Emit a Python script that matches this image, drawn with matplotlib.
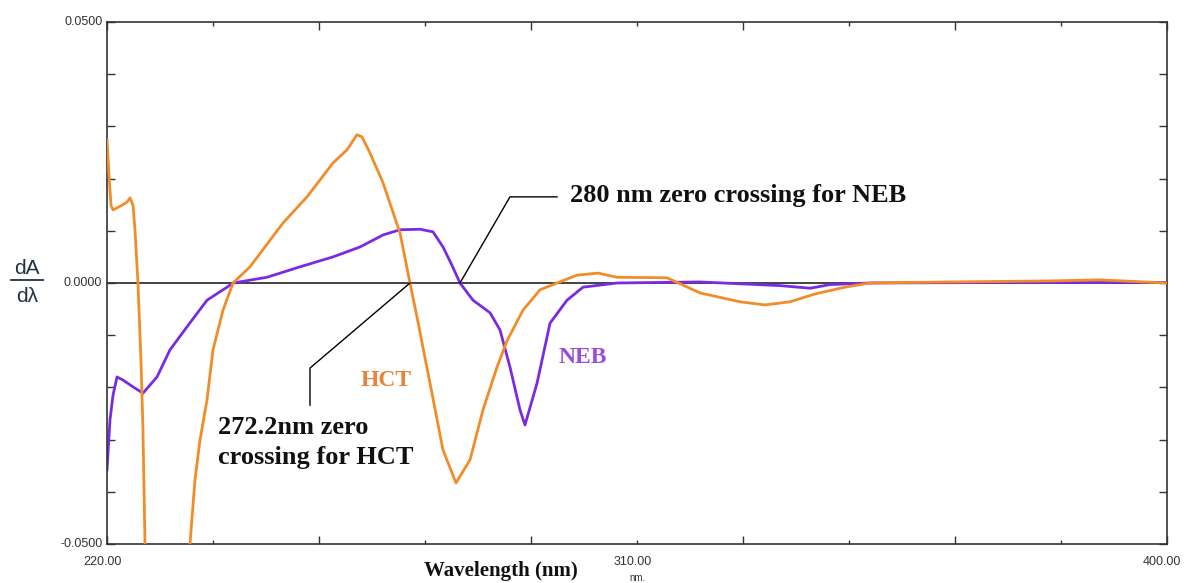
import matplotlib
matplotlib.use("Agg")
import matplotlib.pyplot as plt
from matplotlib.ticker import FixedLocator, NullFormatter

# ---- data (wavelength nm, dA/dlambda) ----
hct_nm = [220.00, 220.34, 220.68, 221.02, 221.70, 222.55, 223.40, 223.91, 224.42, 224.75,
          225.26, 225.77, 226.11, 226.45, 226.79, 230.0, 233.0, 233.42, 233.92, 234.09,
          234.94, 235.79, 236.98, 238.00, 239.70, 241.40, 244.28, 249.89, 253.96, 258.38,
          260.75, 262.45, 263.30, 264.66, 266.87, 269.75, 271.45, 272.64, 274.85, 277.06,
          279.26, 281.64, 283.85, 286.23, 287.92, 290.64, 293.53, 296.42, 299.81, 303.38,
          306.60, 315.09, 320.70, 327.49, 331.74, 335.98, 340.23, 345.32, 349.57, 363.1,
          380.1, 388.6, 400.0]
hct_val = [0.0274, 0.0207, 0.0149, 0.0140, 0.0144, 0.0149, 0.0155, 0.0163, 0.0149, 0.0102,
           0.0, -0.0148, -0.0282, -0.0500, -0.0750, -0.0900, -0.0800, -0.0600, -0.0520, -0.0500,
           -0.0377, -0.0301, -0.0224, -0.0128, -0.0052, 0.0, 0.0031, 0.0115, 0.0165, 0.0230,
           0.0255, 0.0284, 0.0280, 0.0249, 0.0192, 0.0096, 0.0, -0.0065, -0.0192, -0.0320,
           -0.0383, -0.0339, -0.0243, -0.0161, -0.0111, -0.0052, -0.0013, 0.0, 0.0015, 0.0019,
           0.0011, 0.0010, -0.0019, -0.0036, -0.0042, -0.0036, -0.0021, -0.0008, 0.0, 0.0002,
           0.0004, 0.0006, 0.0]

neb_nm = [220.00, 220.51, 221.02, 221.70, 222.72, 224.42, 226.11, 228.49, 230.70, 233.58,
          236.98, 240.38, 241.40, 247.17, 252.77, 258.38, 262.96, 266.87, 269.75, 273.15,
          275.36, 277.06, 278.58, 279.94, 282.15, 285.04, 286.74, 288.43, 290.13, 290.98,
          293.02, 295.23, 298.11, 300.83, 306.60, 320.7, 334.3, 339.4, 342.8, 349.6,
          371.6, 400.0]
neb_val = [-0.0358, -0.0262, -0.0215, -0.0180, -0.0186, -0.0199, -0.0211, -0.0180, -0.0128, -0.0084,
           -0.0033, -0.0008, 0.0, 0.0011, 0.0031, 0.0050, 0.0069, 0.0092, 0.0102, 0.0103,
           0.0098, 0.0069, 0.0034, 0.0, -0.0033, -0.0057, -0.0090, -0.0161, -0.0243, -0.0272,
           -0.0192, -0.0077, -0.0033, -0.0008, 0.0, 0.0002, -0.0005, -0.0010, -0.0003, 0.0,
           0.0001, 0.0001]

x_label_ticks = [220, 310, 400]
y_label_ticks = [-0.05, 0.0, 0.05]

HCT_COLOR = "#F28C28"
NEB_COLOR = "#7A2BE2"

fig = plt.figure(figsize=(11.89, 5.83), dpi=100)
ax = fig.add_axes([107/1189, 39/583, 1060/1189, 522/583])

ax.axhline(0, color="#222222", lw=1.2, zorder=1)
ax.plot(hct_nm, hct_val, color=HCT_COLOR, lw=2.0, zorder=3)
ax.plot(neb_nm, neb_val, color=NEB_COLOR, lw=2.0, zorder=2)

ax.set_xlim(220, 400)
ax.set_ylim(-0.05, 0.05)

for s in ax.spines.values():
    s.set_color("#333333")
    s.set_linewidth(1.2)

ax.xaxis.set_major_locator(FixedLocator([220, 256, 292, 328, 364, 400]))
ax.xaxis.set_minor_locator(FixedLocator([238, 274, 310, 346, 382]))
ax.yaxis.set_major_locator(FixedLocator([-0.05 + 0.01 * i for i in range(11)]))
ax.xaxis.set_major_formatter(NullFormatter())
ax.yaxis.set_major_formatter(NullFormatter())
ax.tick_params(axis="both", which="major", direction="in", length=6, width=1,
               top=True, right=True, color="#333333")
ax.tick_params(axis="both", which="minor", direction="in", length=3, width=1,
               top=True, right=True, color="#333333")

tick_font = dict(family="Liberation Sans", fontsize=9, color="#333333")
for v in x_label_ticks:
    ax.text(v - 0.8, -0.0523, f"{v:.2f}", ha="center", va="top", **tick_font)
ax.text(310, -0.0556, "nm.", ha="center", va="top", family="Liberation Sans",
        fontsize=7, color="#333333")
for v in y_label_ticks:
    ax.text(219.2, v, f"{v:.4f}", ha="right", va="center", **tick_font)

fig.text(501/1189, 1 - 571/583, "Wavelength (nm)", ha="center", va="center",
         family="Liberation Serif", fontweight="bold", fontsize=15, color="#111111")

# dA / dλ label
fig.text(27/1189, 1 - 268/583, "dA", ha="center", va="center", family="Liberation Sans",
         fontsize=15, color="#1E3346")
fig.text(27/1189, 1 - 296/583, "dλ", ha="center", va="center", family="Liberation Sans",
         fontsize=15, color="#1E3346")
fig.add_artist(plt.Line2D([11/1189, 43/1189], [1 - 280/583, 1 - 280/583],
                          color="#1E3346", lw=1.3))

# annotations
ax.plot([279.94, 288.43, 296.42], [0.0, 0.0165, 0.0165], color="black", lw=1.0, zorder=4)
ax.text(298.6, 0.0168, "280 nm zero crossing for NEB", ha="left", va="center",
        family="Liberation Serif", fontweight="bold", fontsize=19, color="#111111")

ax.plot([271.45, 254.47, 254.47], [0.0, -0.0163, -0.0234], color="black", lw=1.0, zorder=4)
ax.text(238.8, -0.0305, "272.2nm zero\ncrossing for HCT", ha="left", va="center",
        family="Liberation Serif", fontweight="bold", fontsize=19, color="#111111",
        linespacing=1.4)

ax.text(267.4, -0.0186, "HCT", ha="center", va="center", family="Liberation Serif",
        fontweight="bold", fontsize=17, color="#E8843A")
ax.text(300.8, -0.0142, "NEB", ha="center", va="center", family="Liberation Serif",
        fontweight="bold", fontsize=17, color="#9A4BDD")

fig.savefig("out.png", dpi=100)
